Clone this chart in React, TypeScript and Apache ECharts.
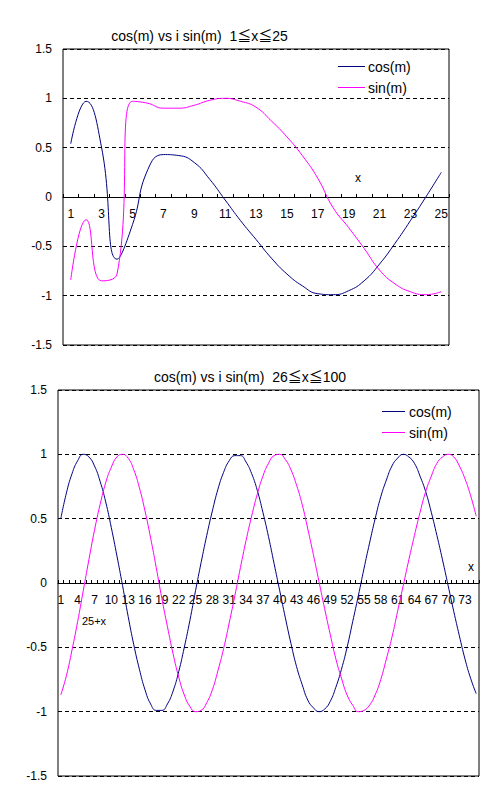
import React, { useEffect, useRef } from 'react';
import * as echarts from 'echarts';

const topCategories = ['1', '2', '3', '4', '5', '6', '7', '8', '9', '10', '11', '12', '13', '14', '15', '16', '17', '18', '19', '20', '21', '22', '23', '24', '25'];
const topCos = [0.54, 0.97, 0.5, -0.63, -0.28, 0.28, 0.43, 0.42, 0.35, 0.18, -0.03, -0.24, -0.43, -0.62, -0.78, -0.9, -0.98, -0.99, -0.95, -0.85, -0.68, -0.47, -0.24, 0.0, 0.25];
const topSin = [-0.84, -0.23, -0.85, -0.78, 0.97, 0.95, 0.9, 0.9, 0.93, 0.98, 1.0, 0.97, 0.91, 0.77, 0.61, 0.42, 0.19, -0.11, -0.31, -0.52, -0.74, -0.88, -0.96, -0.99, -0.96];

const bottomCategories = ['1', '2', '3', '4', '5', '6', '7', '8', '9', '10', '11', '12', '13', '14', '15', '16', '17', '18', '19', '20', '21', '22', '23', '24', '25', '26', '27', '28', '29', '30', '31', '32', '33', '34', '35', '36', '37', '38', '39', '40', '41', '42', '43', '44', '45', '46', '47', '48', '49', '50', '51', '52', '53', '54', '55', '56', '57', '58', '59', '60', '61', '62', '63', '64', '65', '66', '67', '68', '69', '70', '71', '72', '73', '74', '75'];
const bottomCos = [0.5, 0.7, 0.85, 0.95, 1.0, 0.98, 0.91, 0.79, 0.63, 0.43, 0.21, -0.02, -0.26, -0.48, -0.67, -0.83, -0.94, -0.99, -0.99, -0.94, -0.84, -0.69, -0.5, -0.29, -0.06, 0.16, 0.37, 0.56, 0.73, 0.86, 0.95, 0.99, 0.99, 0.94, 0.85, 0.72, 0.55, 0.36, 0.15, -0.06, -0.27, -0.47, -0.65, -0.79, -0.91, -0.97, -1.0, -0.98, -0.92, -0.81, -0.67, -0.5, -0.3, -0.1, 0.11, 0.31, 0.5, 0.67, 0.8, 0.91, 0.97, 1.0, 0.98, 0.93, 0.83, 0.71, 0.55, 0.37, 0.18, -0.02, -0.22, -0.41, -0.59, -0.74, -0.86];
const bottomSin = [-0.87, -0.72, -0.52, -0.3, -0.06, 0.18, 0.41, 0.61, 0.78, 0.9, 0.98, 1.0, 0.97, 0.88, 0.74, 0.56, 0.35, 0.12, -0.12, -0.34, -0.55, -0.73, -0.87, -0.96, -1.0, -0.99, -0.93, -0.83, -0.68, -0.51, -0.31, -0.1, 0.12, 0.33, 0.52, 0.69, 0.83, 0.93, 0.99, 1.0, 0.96, 0.88, 0.76, 0.61, 0.42, 0.22, 0.01, -0.2, -0.4, -0.59, -0.74, -0.87, -0.95, -1.0, -0.99, -0.95, -0.87, -0.75, -0.59, -0.42, -0.22, -0.02, 0.18, 0.37, 0.55, 0.71, 0.83, 0.93, 0.98, 1.0, 0.98, 0.91, 0.81, 0.68, 0.52];

const seriesNames = ['cos(m)', 'sin(m)'];
const topTitle = 'cos(m) vs i sin(m)  1≦x≦25';
const bottomTitle = 'cos(m) vs i sin(m)  26≦x≦100';
const topAxisName = 'x';
const bottomAxisName = 'x';
const bottomNote = '25+x';

const COS_COLOR = '#000080';
const SIN_COLOR = '#FF00FF';
const FONT = '"Liberation Sans", "Noto Sans CJK JP", sans-serif';

const TOP_GRID = { left: 63, top: 49, width: 386, height: 296 };
const BOTTOM_GRID = { left: 58, top: 390, width: 421, height: 386 };

function makeX(gridIndex: number, data: string[], labelInterval: number, offset: number) {
  return {
    type: 'category',
    gridIndex,
    data,
    boundaryGap: true,
    position: 'bottom',
    offset,
    axisLine: { show: true, onZero: false, lineStyle: { color: '#000', width: 1 } },
    axisTick: { show: true, inside: true, length: 3, interval: 0, lineStyle: { color: '#000', width: 1 } },
    axisLabel: { interval: labelInterval, color: '#000', fontSize: 12, fontFamily: FONT, margin: 11 },
    splitLine: { show: false },
  };
}

function makeY(gridIndex: number) {
  return {
    type: 'value',
    gridIndex,
    min: -1.5,
    max: 1.5,
    interval: 0.5,
    axisLine: { show: false },
    axisTick: { show: false },
    axisLabel: { color: '#000', fontSize: 12, fontFamily: FONT, margin: 11 },
    splitLine: { show: true, lineStyle: { color: '#000', type: [4, 3], width: 1 } },
  };
}

function makeSeries(name: string, data: number[], color: string, idx: number) {
  return {
    name,
    type: 'line',
    xAxisIndex: idx,
    yAxisIndex: idx,
    data,
    smooth: true,
    symbol: 'none',
    lineStyle: { color, width: 1 },
    itemStyle: { color },
  };
}

function text(x: number, y: number, t: string, size: number, align = 'center') {
  return {
    type: 'text',
    x,
    y,
    style: { text: t, fill: '#000', fontSize: size, fontFamily: FONT, align, verticalAlign: 'middle' },
  };
}

function legendEntry(x1: number, x2: number, y: number, color: string, label: string, textX: number) {
  return [
    { type: 'line', shape: { x1, y1: y, x2, y2: y }, style: { stroke: color, lineWidth: 1 } },
    text(textX, y, label, 14, 'left'),
  ];
}

export default function App() {
  const ref = useRef<HTMLDivElement>(null);
  useEffect(() => {
    if (!ref.current) return;
    const chart = echarts.init(ref.current, null, { renderer: 'svg' });
    chart.setOption({
      animation: false,
      backgroundColor: '#ffffff',
      grid: [
        { ...TOP_GRID, show: true, borderColor: '#000', borderWidth: 1, backgroundColor: 'transparent' },
        { ...BOTTOM_GRID, show: true, borderColor: '#000', borderWidth: 1, backgroundColor: 'transparent' },
      ],
      xAxis: [
        makeX(0, topCategories, 1, -TOP_GRID.height / 2),
        makeX(1, bottomCategories, 2, -BOTTOM_GRID.height / 2),
      ],
      yAxis: [makeY(0), makeY(1)],
      series: [
        makeSeries(seriesNames[0], topCos, COS_COLOR, 0),
        makeSeries(seriesNames[1], topSin, SIN_COLOR, 0),
        makeSeries(seriesNames[0], bottomCos, COS_COLOR, 1),
        makeSeries(seriesNames[1], bottomSin, SIN_COLOR, 1),
      ],
      graphic: [
        text(199.5, 36, topTitle, 14),
        text(250, 377, bottomTitle, 14),
        text(358, 178, topAxisName, 12),
        text(471, 567, bottomAxisName, 12),
        text(94, 621, bottomNote, 11),
        ...legendEntry(338, 365, 66.5, COS_COLOR, seriesNames[0], 368),
        ...legendEntry(338, 365, 87.5, SIN_COLOR, seriesNames[1], 368),
        ...legendEntry(382, 405, 411.5, COS_COLOR, seriesNames[0], 409),
        ...legendEntry(382, 405, 432.5, SIN_COLOR, seriesNames[1], 409),
      ],
    });
    return () => chart.dispose();
  }, []);
  return <div ref={ref} style={{ position: 'absolute', left: 0, top: 0, width: 504, height: 795 }} />;
}
